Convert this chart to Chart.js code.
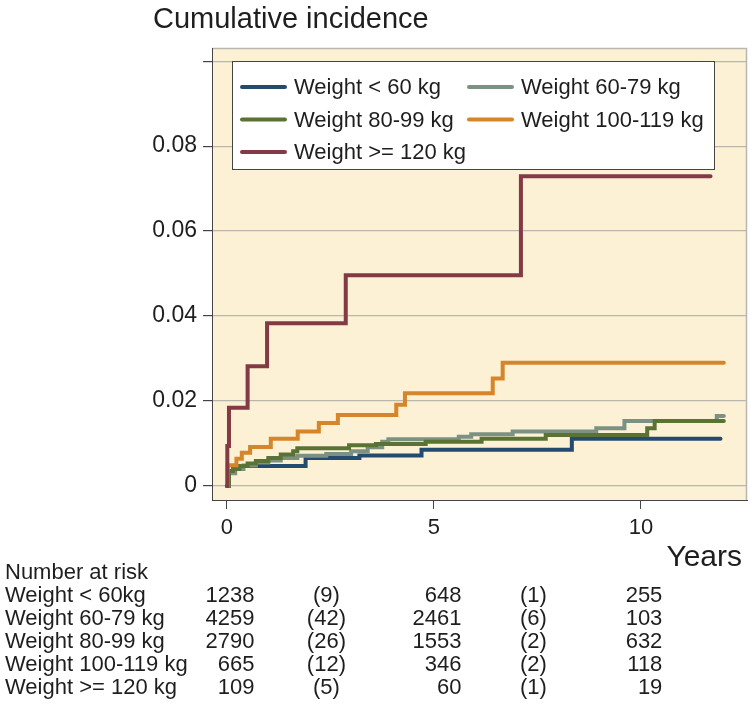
<!DOCTYPE html>
<html>
<head>
<meta charset="utf-8">
<script src="https://cdn.jsdelivr.net/npm/chart.js@4.4.0/dist/chart.umd.min.js"></script>
<style>
  body { margin: 0; background: #fff; }
  #wrap { width: 753px; height: 714px; }
</style>
</head>
<body>
<div id="wrap"><canvas id="chart" width="753" height="714"></canvas></div>
<script>
// series labels (legend) and colours
const groups = ['Weight < 60 kg', 'Weight 60-79 kg', 'Weight 80-99 kg', 'Weight 100-119 kg', 'Weight >= 120 kg'];
const colors = ['#234a6f', '#7b9283', '#5a7334', '#d5852a', '#833a44'];

// cumulative incidence curves: event times (years) and values
const tLt60 = [0, 0.05, 0.15, 1.9, 3.2, 4.7, 8.33, 11.92];
const cLt60 = [0, 0.0033, 0.0047, 0.0066, 0.0072, 0.0085, 0.0111, 0.0111];

const t60_79 = [0, 0.05, 0.2, 0.4, 0.7, 1.0, 1.3, 1.7, 2.4, 3.0, 3.4, 3.75, 3.9, 5.6, 5.9, 6.9, 8.92, 9.6, 11.83, 12.0];
const c60_79 = [0, 0.003, 0.004, 0.0048, 0.0055, 0.006, 0.0066, 0.0071, 0.0075, 0.0082, 0.0091, 0.0104, 0.011, 0.0116, 0.0122, 0.0128, 0.0136, 0.0153, 0.0165, 0.0165];

const t80_99 = [0, 0.05, 0.15, 0.3, 0.5, 0.7, 1.0, 1.3, 1.6, 1.7, 2.95, 3.6, 4.8, 6.15, 7.7, 10.15, 10.33, 12.0];
const c80_99 = [0, 0.0035, 0.004, 0.0047, 0.0053, 0.0059, 0.0066, 0.0074, 0.0082, 0.0089, 0.0096, 0.0099, 0.0104, 0.0111, 0.012, 0.0136, 0.0153, 0.0153];

const t100_119 = [0, 0.02, 0.23, 0.36, 0.56, 1.06, 1.71, 2.22, 2.68, 4.09, 4.30, 6.42, 6.66, 12.0];
const c100_119 = [0, 0.0049, 0.0064, 0.0078, 0.0092, 0.0111, 0.0128, 0.0148, 0.0167, 0.0191, 0.0218, 0.0253, 0.029, 0.029];

const tGe120 = [0, 0.01, 0.05, 0.5, 0.97, 2.87, 7.1, 11.68];
const cGe120 = [0, 0.0094, 0.0184, 0.0282, 0.0383, 0.0496, 0.0729, 0.0729];

// axis ticks
const xTicks = [0, 5, 10];
const yTicks = [0, 0.02, 0.04, 0.06, 0.08, 0.1];

// number at risk table (censored counts in brackets between the time points)
const riskTitle = 'Number at risk';
const riskLabels = ['Weight < 60kg', 'Weight 60-79 kg', 'Weight 80-99 kg', 'Weight 100-119 kg', 'Weight >= 120 kg'];
const riskTimes = [0, 2.5, 5, 7.5, 10];
const riskLt60 = ['1238', '(9)', '648', '(1)', '255'];
const risk60_79 = ['4259', '(42)', '2461', '(6)', '103'];
const risk80_99 = ['2790', '(26)', '1553', '(2)', '632'];
const risk100_119 = ['665', '(12)', '346', '(2)', '118'];
const riskGe120 = ['109', '(5)', '60', '(1)', '19'];

const curves = [[tLt60, cLt60], [t60_79, c60_79], [t80_99, c80_99], [t100_119, c100_119], [tGe120, cGe120]];
const riskRows = [riskLt60, risk60_79, risk80_99, risk100_119, riskGe120];

const FONT = 'Arial, "Liberation Sans", Helvetica, sans-serif';
const TEXT = '#1e1e1e';

const datasets = curves.map(function(c, i) {
    return {
        label: groups[i],
        data: c[0].map(function(t, j) { return { x: t, y: c[1][j] }; }),
        borderColor: colors[i],
        backgroundColor: colors[i],
        borderWidth: 4,
        stepped: true,
        pointRadius: 0,
        borderCapStyle: 'round',
        fill: false,
        order: groups.length - 1 - i   // later groups on top
    };
});

const decor = {
    id: 'decor',
    beforeDraw: function(chart) {
        const ctx = chart.ctx, a = chart.chartArea;
        ctx.save();
        ctx.fillStyle = '#fff';
        ctx.fillRect(0, 0, chart.width, chart.height);
        ctx.fillStyle = '#fcf0d5';
        ctx.fillRect(a.left, a.top, a.right - a.left, a.bottom - a.top);
        // light outline on top and right
        ctx.strokeStyle = '#b9b6ae';
        ctx.lineWidth = 1.5;
        ctx.beginPath();
        ctx.moveTo(a.left, a.top + 0.5);
        ctx.lineTo(a.right - 0.5, a.top + 0.5);
        ctx.lineTo(a.right - 0.5, a.bottom);
        ctx.stroke();
        ctx.restore();
    },
    afterDatasetsDraw: function(chart) {
        const ctx = chart.ctx, a = chart.chartArea;
        // legend box
        const bx = a.left + 20, by = a.top + 13, bw = 482, bh = 108;
        ctx.save();
        ctx.fillStyle = '#fff';
        ctx.fillRect(bx, by, bw, bh);
        ctx.strokeStyle = '#444';
        ctx.lineWidth = 1;
        ctx.strokeRect(bx + 0.5, by + 0.5, bw, bh);
        ctx.font = '22px ' + FONT;
        ctx.textBaseline = 'middle';
        ctx.textAlign = 'left';
        chart.data.datasets.forEach(function(ds, i) {
            const col = i % 2, row = Math.floor(i / 2);
            const x0 = bx + 10 + col * 227;
            const y0 = by + 26 + row * 32.5;
            ctx.strokeStyle = ds.borderColor;
            ctx.lineWidth = 4;
            ctx.lineCap = 'round';
            ctx.beginPath();
            ctx.moveTo(x0, y0);
            ctx.lineTo(x0 + 43, y0);
            ctx.stroke();
            ctx.fillStyle = TEXT;
            ctx.fillText(ds.label, x0 + 52, y0 + 1);
        });
        ctx.restore();
    },
    afterDraw: function(chart) {
        const ctx = chart.ctx;
        const xs = chart.scales.x;
        ctx.save();
        ctx.fillStyle = TEXT;
        // y title
        ctx.font = '29px ' + FONT;
        ctx.textAlign = 'left';
        ctx.textBaseline = 'alphabetic';
        ctx.fillText('Cumulative incidence', 153, 28);
        // x title
        ctx.font = '30px ' + FONT;
        ctx.textAlign = 'right';
        ctx.fillText('Years', 742, 566);
        // risk table
        ctx.font = '22px ' + FONT;
        ctx.textBaseline = 'middle';
        ctx.textAlign = 'left';
        ctx.fillText(riskTitle, 5, 573);
        riskLabels.forEach(function(lab, r) {
            ctx.fillText(lab, 5, 596 + r * 23);
        });
        riskTimes.forEach(function(t, c) {
            const px = xs.getPixelForValue(t);
            const bracket = riskRows[0][c].charAt(0) === '(';
            let w = 0;
            riskRows.forEach(function(row) { w = Math.max(w, ctx.measureText(row[c]).width); });
            riskRows.forEach(function(row, r) {
                if (bracket) {
                    ctx.textAlign = 'center';
                    ctx.fillText(row[c], px - 4, 596 + r * 23);
                } else {
                    ctx.textAlign = 'right';
                    ctx.fillText(row[c], px + w / 2 + 3, 596 + r * 23);
                }
            });
        });
        ctx.restore();
    }
};

new Chart(document.getElementById('chart'), {
    type: 'line',
    data: { datasets: datasets },
    options: {
        responsive: false,
        animation: false,
        devicePixelRatio: 1,
        layout: { padding: { top: 48, right: 6, left: 0, bottom: 0 } },
        plugins: {
            legend: { display: false },
            tooltip: { enabled: false }
        },
        scales: {
            x: {
                type: 'linear',
                min: -0.36,
                max: 12.56,
                afterFit: function(s) { s.height = 214; },
                afterBuildTicks: function(s) { s.ticks = xTicks.map(function(v) { return { value: v }; }); },
                grid: { drawOnChartArea: false, drawTicks: true, tickLength: 9, tickColor: '#444', color: '#444' },
                border: { display: true, color: '#444', width: 1 },
                ticks: {
                    color: TEXT,
                    font: { size: 22, family: FONT },
                    padding: 6,
                    maxRotation: 0,
                    callback: function(v) { return String(v); }
                }
            },
            y: {
                type: 'linear',
                min: -0.0033,
                max: 0.1031,
                afterFit: function(s) { s.width = 212; },
                afterBuildTicks: function(s) { s.ticks = yTicks.map(function(v) { return { value: v }; }); },
                grid: { drawOnChartArea: true, drawTicks: true, tickLength: 9, tickColor: '#444', color: '#b9b6ae', lineWidth: 1.2 },
                border: { display: true, color: '#444', width: 1 },
                ticks: {
                    color: TEXT,
                    font: { size: 23, family: FONT },
                    padding: 6,
                    callback: function(v) {
                        if (v === 0.1) return '';
                        return v === 0 ? '0' : v.toFixed(2);
                    }
                }
            }
        }
    },
    plugins: [decor]
});
</script>
</body>
</html>
